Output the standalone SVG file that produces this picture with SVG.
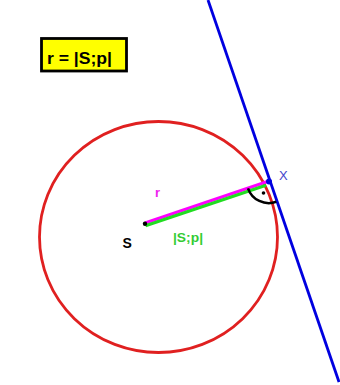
<svg xmlns="http://www.w3.org/2000/svg" width="340" height="385" viewBox="0 0 340 385">
<style>
.lbl{font-family:"Liberation Sans",Arial,sans-serif;font-weight:bold}
</style>
<rect width="340" height="385" fill="#ffffff"/>
<g id="formula">
<rect x="41.5" y="38.5" width="85" height="32.5" fill="#ffff00" stroke="#000000" stroke-width="2.8"/>
<text class="lbl" x="47" y="64" font-size="16" fill="#000000" textLength="65" lengthAdjust="spacingAndGlyphs">r = |S;p|</text>
</g>
<g id="circle">
<ellipse cx="158.5" cy="237" rx="119" ry="115.5" fill="none" stroke="#e02020" stroke-width="2.8"/>
</g>
<g id="tangent">
<line x1="208" y1="0" x2="339" y2="382" stroke="#0000e0" stroke-width="2.8"/>
</g>
<g id="connectors">
<line x1="145" y1="223" x2="269" y2="181" stroke="#ff00ff" stroke-width="3.2"/>
<line x1="145.5" y1="225.8" x2="266" y2="185.2" stroke="#22dd22" stroke-width="3.2"/>
<path d="M 248 188.3 A 22 22 0 0 0 276.3 201.8" fill="none" stroke="#000000" stroke-width="2.5"/>
<circle cx="263.5" cy="193" r="1.8" fill="#000000"/>
<circle cx="145" cy="223.8" r="2.2" fill="#000000"/>
<circle cx="269" cy="181.5" r="3" fill="#0000e0"/>
</g>
<g id="labels">
<text x="279" y="180" font-family="'Liberation Sans',Arial,sans-serif" font-size="13" fill="#4444cc">X</text>
<text class="lbl" x="155" y="197" font-size="13" fill="#ee22ee">r</text>
<text class="lbl" x="173" y="242" font-size="12" fill="#33cc33" textLength="30" lengthAdjust="spacingAndGlyphs">|S;p|</text>
<text class="lbl" x="122.5" y="248" font-size="14" fill="#000000">S</text>
</g>
</svg>
